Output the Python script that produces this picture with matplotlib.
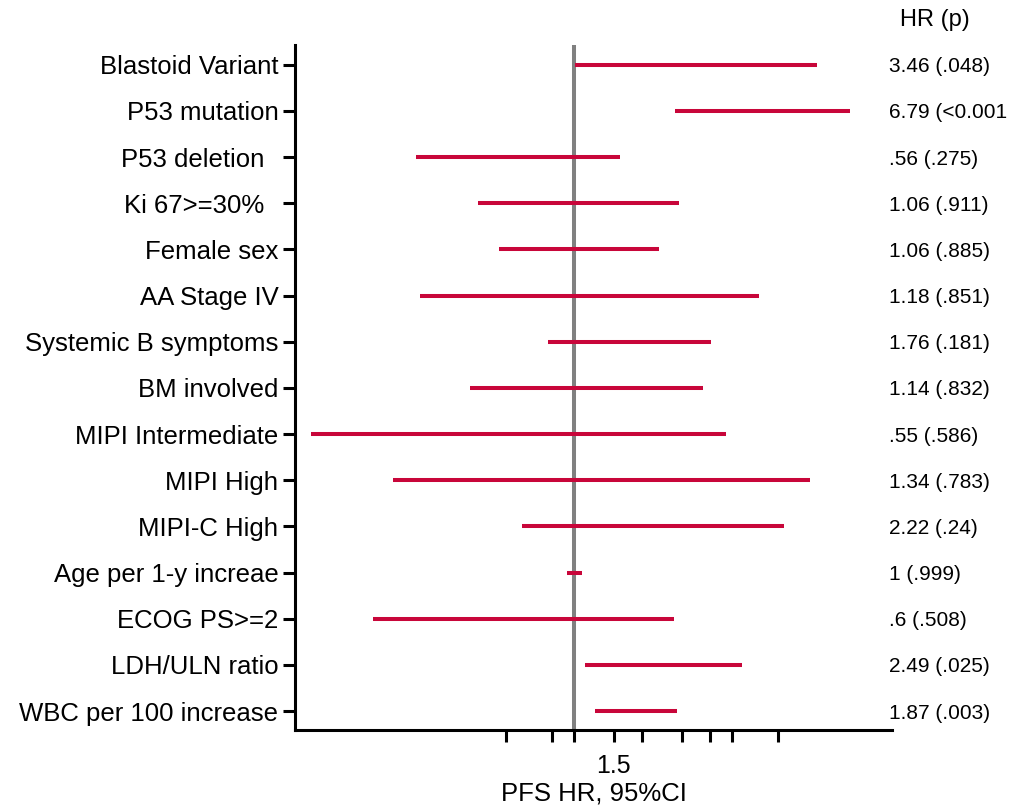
import numpy as np
import matplotlib
matplotlib.use("Agg")
import matplotlib.pyplot as plt
import matplotlib.transforms as mtransforms

plt.rcParams['font.family'] = ['Liberation Sans', 'DejaVu Sans']

# Covariates, listed top to bottom
labels = ["Blastoid Variant", "P53 mutation", "P53 deletion  ", "Ki 67>=30%  ",
          "Female sex", "AA Stage IV", "Systemic B symptoms", "BM involved",
          "MIPI Intermediate", "MIPI High", "MIPI-C High", "Age per 1-y increae",
          "ECOG PS>=2", "LDH/ULN ratio", "WBC per 100 increase"]

# Lower / upper 95% CI of the hazard ratio
ci_low = [1.01, 2.80, 0.20, 0.376, 0.466, 0.208, 0.767, 0.347,
          0.069, 0.158, 0.589, 0.93, 0.129, 1.12, 1.24]
ci_high = [11.9, 16.6, 1.60, 2.91, 2.38, 6.58, 4.03, 3.72,
           4.70, 11.06, 8.49, 1.085, 2.77, 5.53, 2.85]

# HR (p) column
hr_text = ["3.46 (.048)", "6.79 (<0.001", ".56 (.275)", "1.06 (.911)",
           "1.06 (.885)", "1.18 (.851)", "1.76 (.181)", "1.14 (.832)",
           ".55 (.586)", "1.34 (.783)", "2.22 (.24)", "1 (.999)",
           ".6 (.508)", "2.49 (.025)", "1.87 (.003)"]

xticks = [0.5, 0.8, 1, 1.5, 2, 3, 4, 5, 8]
xtick_labels = ["", "", "", "1.5", "", "", "", "", ""]

red = "#c8063a"
gray = "#808080"

fig = plt.figure(figsize=(10.35, 8.09), dpi=100)
ax = fig.add_axes([0.2853, 0.0977, 0.5765, 0.8467])

n = len(labels)
ypos = np.arange(n, 0, -1)  # first row on top

# reference line at HR = 1
ax.axvline(1, color=gray, lw=2.9, zorder=1)

# confidence intervals
ax.hlines(ypos, ci_low, ci_high, colors=red, lw=2.9, capstyle='butt', zorder=2)

ax.set_xscale('log')
ax.set_xlim(0.0585, 25.5)
ax.set_ylim(0.59, n + 0.43)

ax.set_xticks(xticks)
ax.set_xticklabels(xtick_labels, fontsize=18)
ax.xaxis.set_minor_locator(matplotlib.ticker.NullLocator())
ax.set_yticks(ypos)
ax.set_yticklabels(labels, fontsize=18.5)

ax.tick_params(axis='x', length=8.6, width=2.2, pad=9)
ax.tick_params(axis='y', length=8.6, width=2.2, pad=3.5)
ax.set_xlabel("PFS HR, 95%CI", fontsize=18.5, labelpad=2)

for side in ('top', 'right'):
    ax.spines[side].set_visible(False)
for side in ('left', 'bottom'):
    ax.spines[side].set_linewidth(2.2)

# HR (p) column on the right
trans = mtransforms.blended_transform_factory(fig.transFigure, ax.transData)
for y, txt in zip(ypos, hr_text):
    ax.text(0.859, y, txt, transform=trans, fontsize=15,
            ha='left', va='center_baseline', clip_on=False)
fig.text(0.87, 0.975, "HR (p)", fontsize=17, ha='left', va='center')

fig.savefig("out.png", dpi=100)
